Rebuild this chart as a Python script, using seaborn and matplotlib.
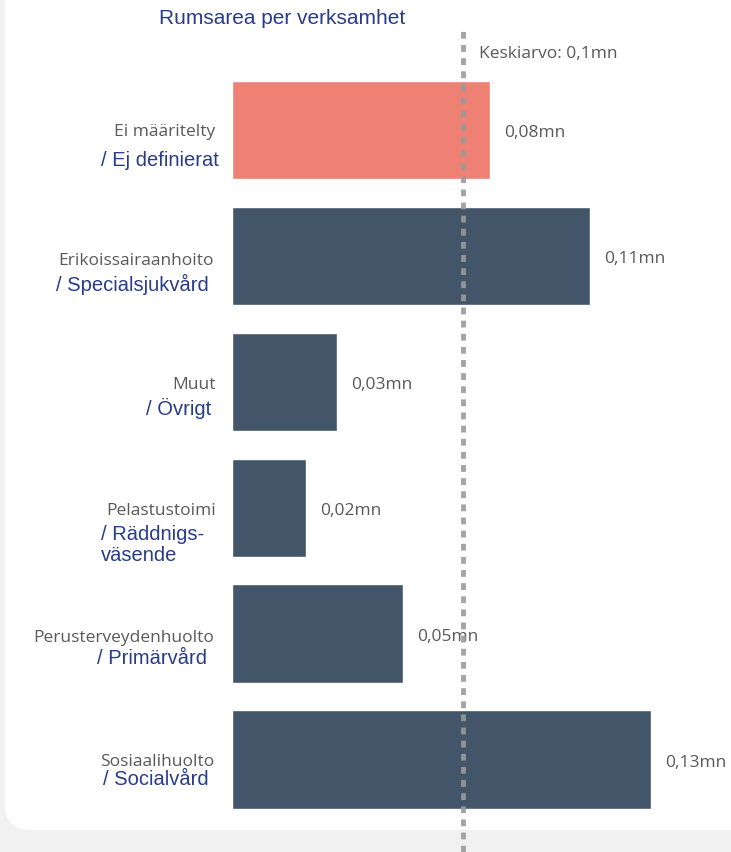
import numpy as np
import pandas as pd
import matplotlib
matplotlib.use('Agg')
import matplotlib.pyplot as plt
from matplotlib.patches import FancyBboxPatch
import seaborn as sns

# data
categories_fi = ['Ei määritelty', 'Erikoissairaanhoito', 'Muut', 'Pelastustoimi',
                 'Perusterveydenhuolto', 'Sosiaalihuolto']
categories_sv = ['/ Ej definierat', '/ Specialsjukvård', '/ Övrigt', '/ Räddnigs-\nväsende',
                 '/ Primärvård', '/ Socialvård']
values = [0.080, 0.111, 0.0325, 0.023, 0.053, 0.130]
highlight = 'Ei määritelty'

title = 'Rumsarea per verksamhet'
mean_label = 'Keskiarvo'

BAR = '#435669'
RED = '#ee8074'
BLUE = '#283c8c'
GRAY = '#595959'

sns.set_theme(style='white')
plt.rcParams['font.family'] = ['Liberation Sans', 'DejaVu Sans']

df = pd.DataFrame({'cat': categories_fi, 'val': values})
df['color'] = np.where(df['cat'] == highlight, 'hi', 'lo')

fig = plt.figure(figsize=(7.31, 8.52), dpi=100)
fig.patch.set_facecolor('#f1f1f1')

# white card with rounded corners
card = FancyBboxPatch((5 / 731, 22 / 852), 760 / 731, 900 / 852,
                      boxstyle='round,pad=0,rounding_size=0.035',
                      transform=fig.transFigure, facecolor='white',
                      edgecolor='none', zorder=-10, mutation_aspect=731 / 852)
fig.patches.append(card)

ax = fig.add_axes([232 / 731, 0, (731 - 232) / 731, 1])
ax.patch.set_alpha(0)
ax.set_zorder(5)
sns.barplot(data=df, y='cat', x='val', hue='color', palette={'hi': RED, 'lo': BAR},
            orient='h', width=0.78, legend=False, ax=ax, saturation=1)

px_per_unit = 3225
ax.set_xlim(0, (731 - 232) / px_per_unit)
pitch = 125.9
ax.set_ylim(5 + (852 - 759.5) / pitch, -130 / pitch)
ax.axis('off')

fi_font = ['Open Sans', 'DejaVu Sans']

# value labels
for i, v in enumerate(values):
    ax.text(v + 14 / px_per_unit, i + 3 / pitch, f'{v:.2f}'.replace('.', ',') + 'mn',
            va='center', ha='left', fontsize=12.5, color=GRAY, family=fi_font)

# mean line
mean = np.mean(values)
ax.axvline(mean, ymin=0, ymax=1 - 30 / 852, color='#9a9a9a', alpha=0.9, lw=3.5,
           ls=(0, (1.4, 1.3)), zorder=3)
ax.text(mean + 16 / px_per_unit, -76 / pitch, f'{mean_label}: ' + f'{mean:.1f}'.replace('.', ',') + 'mn',
        va='center', ha='left', fontsize=12.5, color=GRAY, family=fi_font)

# category label layout (pixel offsets from the bar base / bar centre)
fi_right = [-17, -18, -16, -16, -18, -18]
fi_dy = [2, 5, 3, 3, 4, 2]
sv_right = [-13, -23, -21, -131, -25, -23]
sv_dy = [30, 29, 27, 28, 25, 20]

for i, (fi, sv) in enumerate(zip(categories_fi, categories_sv)):
    ax.text(fi_right[i] / px_per_unit, i + fi_dy[i] / pitch, fi, ha='right', va='center',
            fontsize=12.5, color=GRAY, family=fi_font, clip_on=False)
    if '\n' in sv:
        ax.text(sv_right[i] / px_per_unit, i + (sv_dy[i] - 11) / pitch, sv, ha='left', va='top',
                fontsize=14.5, color=BLUE, linespacing=1.15, clip_on=False)
    else:
        ax.text(sv_right[i] / px_per_unit, i + sv_dy[i] / pitch, sv, ha='right', va='center',
                fontsize=14.5, color=BLUE, clip_on=False)

fig.text(282 / 731, 1 - 19 / 852, title, ha='center', va='center', fontsize=15, color=BLUE)

fig.savefig('out.png', dpi=100, facecolor=fig.get_facecolor())
